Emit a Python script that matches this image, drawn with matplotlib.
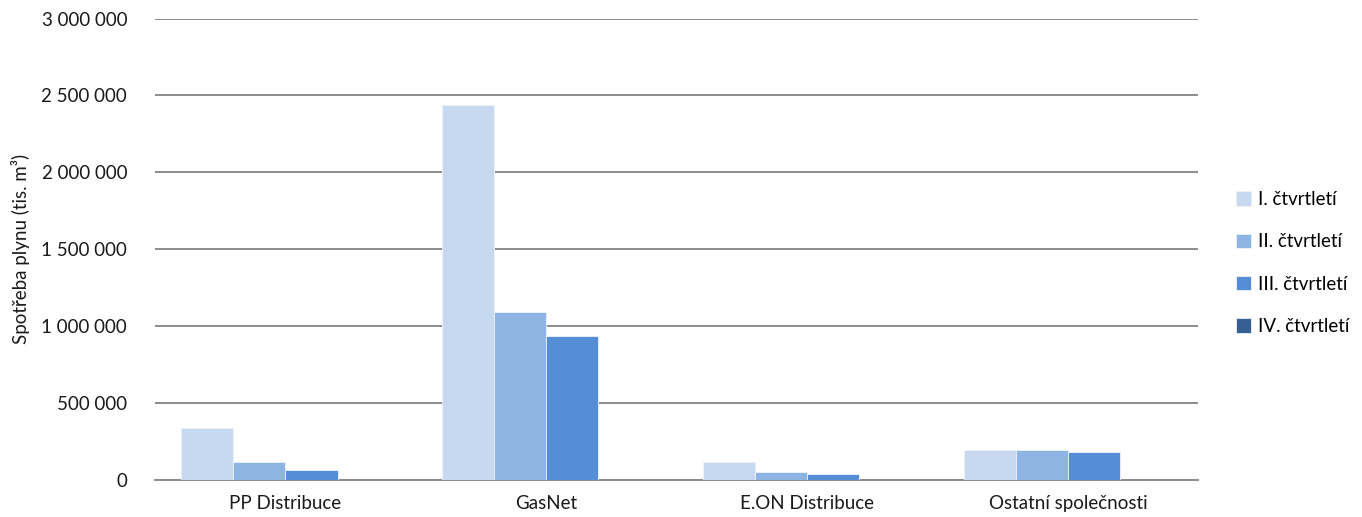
import matplotlib.pyplot as plt
import numpy as np

plt.rcParams['font.family'] = ['Lato', 'DejaVu Sans']

companies = ['PP Distribuce', 'GasNet', 'E.ON Distribuce', 'Ostatní společnosti']
quarters = ['I. čtvrtletí', 'II. čtvrtletí', 'III. čtvrtletí', 'IV. čtvrtletí']
q1 = [341000, 2439000, 116000, 198000]
q2 = [120000, 1095000, 53000, 194000]
q3 = [68000, 935000, 38000, 181000]
q4 = [np.nan, np.nan, np.nan, np.nan]
colors = ['#c6d9f1', '#8eb4e3', '#558ed5', '#376092']
yticks = [0, 500000, 1000000, 1500000, 2000000, 2500000, 3000000]

fig = plt.figure(figsize=(13.62, 5.17), dpi=100)
ax = fig.add_axes([0.1138, 0.0716, 0.766, 0.8926])

x = np.arange(len(companies))
w = 0.2
series = [q1, q2, q3, q4]
for i in range(4):
    ax.bar(x + (i - 1.5) * w, series[i], w, color=colors[i], label=quarters[i],
           edgecolor='#eef3fa', linewidth=0.6, zorder=3)

ax.set_xlim(-0.5, len(companies) - 0.5)
ax.set_ylim(0, 3000000)
ax.set_yticks(yticks)
ax.set_yticklabels(['{:,}'.format(v).replace(',', ' ') for v in yticks], fontsize=13.5, color='#1a1a1a')
ax.set_xticks(x)
ax.set_xticklabels(companies, fontsize=13.5, color='#1a1a1a')
ax.tick_params(axis='y', length=0, pad=20)
ax.tick_params(axis='x', length=0, pad=11)
ax.grid(axis='y', color='#8c8c8c', linewidth=1.4, zorder=0)
for s in ['top', 'right', 'left']:
    ax.spines[s].set_visible(False)
ax.spines['bottom'].set_color('#8c8c8c')
ax.spines['bottom'].set_linewidth(1.4)
ax.set_ylabel('Spotřeba plynu (tis. m³)', fontsize=13.5, color='#1a1a1a', labelpad=8)

ax.legend(loc='center left', bbox_to_anchor=(1.02, 0.47), frameon=False, fontsize=13.5,
          handlelength=0.8, handleheight=0.8, labelspacing=1.35, handletextpad=0.35)

fig.savefig('out.png', dpi=100)
